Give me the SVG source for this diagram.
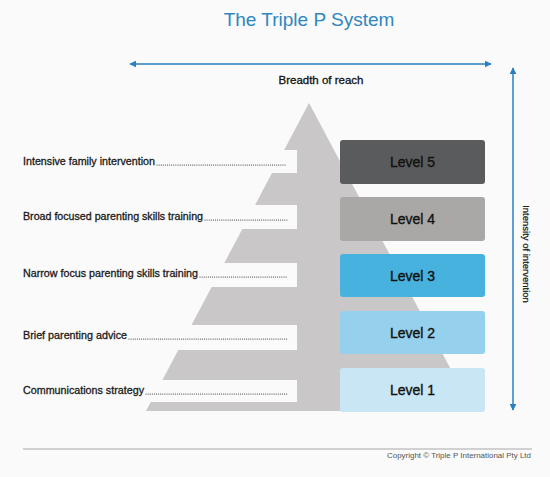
<svg xmlns="http://www.w3.org/2000/svg" width="550" height="477" viewBox="0 0 550 477">
<style>
  .lbl{font-family:"Liberation Sans",Arial,sans-serif;font-size:10.5px;fill:#1a1a1a;stroke:#1a1a1a;stroke-width:0.3}
  .lvl{font-family:"Liberation Sans",Arial,sans-serif;font-size:14px;fill:#111;stroke:#111;stroke-width:0.35;text-anchor:middle}
  .dots{stroke:#222;stroke-width:1.1;stroke-dasharray:0 2.1;stroke-linecap:round;fill:none}
  .band{fill:#fafafa}
  .ax{stroke:#2a7fc0;stroke-width:1.5;fill:none}
</style>
<defs>
  <marker id="ah" viewBox="0 0 10 10" refX="9" refY="5" markerWidth="7" markerHeight="7" markerUnits="userSpaceOnUse" orient="auto-start-reverse">
    <path d="M0,0 L10,5 L0,10 z" fill="#2a7fc0"/>
  </marker>
</defs>
<rect width="550" height="477" fill="#fafafa"/>
<text x="309" y="26" text-anchor="middle" font-family="Liberation Sans,Arial,sans-serif" font-size="19" fill="#2f86c1">The Triple P System</text>
<g id="pyramid">
  <polygon points="309,103 146,411 473,411" fill="#c9c7c7"/>
  <rect class="band" x="0" y="150" width="297" height="23"/>
  <rect class="band" x="0" y="205" width="297" height="24"/>
  <rect class="band" x="0" y="263" width="297" height="24"/>
  <rect class="band" x="0" y="325" width="297" height="25"/>
  <rect class="band" x="0" y="380" width="297" height="22"/>
</g>
<g id="connectors">
  <line class="ax" x1="130" y1="64" x2="491" y2="64" marker-start="url(#ah)" marker-end="url(#ah)"/>
  <line class="ax" x1="513" y1="68" x2="513" y2="410" marker-start="url(#ah)" marker-end="url(#ah)"/>
</g>
<text x="321" y="84" text-anchor="middle" font-family="Liberation Sans,Arial,sans-serif" font-size="11.5" fill="#111" stroke="#111" stroke-width="0.3">Breadth of reach</text>
<text transform="translate(523,254) rotate(90)" text-anchor="middle" font-family="Liberation Sans,Arial,sans-serif" font-size="9.5" fill="#111" stroke="#111" stroke-width="0.2">Intensity of intervention</text>
<g id="label1"><text class="lbl" x="23" y="165" textLength="132" lengthAdjust="spacingAndGlyphs">Intensive family intervention</text><line class="dots" x1="157" y1="165" x2="287" y2="165"/></g>
<g id="label2"><text class="lbl" x="23" y="220" textLength="180" lengthAdjust="spacingAndGlyphs">Broad focused parenting skills training</text><line class="dots" x1="205" y1="220" x2="287" y2="220"/></g>
<g id="label3"><text class="lbl" x="23" y="277" textLength="175" lengthAdjust="spacingAndGlyphs">Narrow focus parenting skills training</text><line class="dots" x1="200" y1="277" x2="287" y2="277"/></g>
<g id="label4"><text class="lbl" x="23" y="339" textLength="104" lengthAdjust="spacingAndGlyphs">Brief parenting advice</text><line class="dots" x1="129" y1="339" x2="287" y2="339"/></g>
<g id="label5"><text class="lbl" x="23" y="394" textLength="121" lengthAdjust="spacingAndGlyphs">Communications strategy</text><line class="dots" x1="146" y1="394" x2="287" y2="394"/></g>
<g id="level5"><rect x="340" y="140" width="145" height="44" rx="3" fill="#5a5b5c"/><text class="lvl" x="412.5" y="167">Level 5</text></g>
<g id="level4"><rect x="340" y="197" width="145" height="44" rx="3" fill="#a9a8a6"/><text class="lvl" x="412.5" y="224">Level 4</text></g>
<g id="level3"><rect x="340" y="254" width="145" height="43" rx="3" fill="#47b2dd"/><text class="lvl" x="412.5" y="281">Level 3</text></g>
<g id="level2"><rect x="340" y="311" width="145" height="43" rx="3" fill="#95d0ec"/><text class="lvl" x="412.5" y="338">Level 2</text></g>
<g id="level1"><rect x="340" y="368" width="145" height="44" rx="3" fill="#c9e6f4"/><text class="lvl" x="412.5" y="395">Level 1</text></g>
<line x1="23" y1="449" x2="532" y2="449" stroke="#a8a8a8" stroke-width="1"/>
<text x="531" y="458" text-anchor="end" font-family="Liberation Sans,Arial,sans-serif" font-size="8" fill="#555" textLength="144" lengthAdjust="spacingAndGlyphs">Copyright © Triple P International Pty Ltd</text>
</svg>
